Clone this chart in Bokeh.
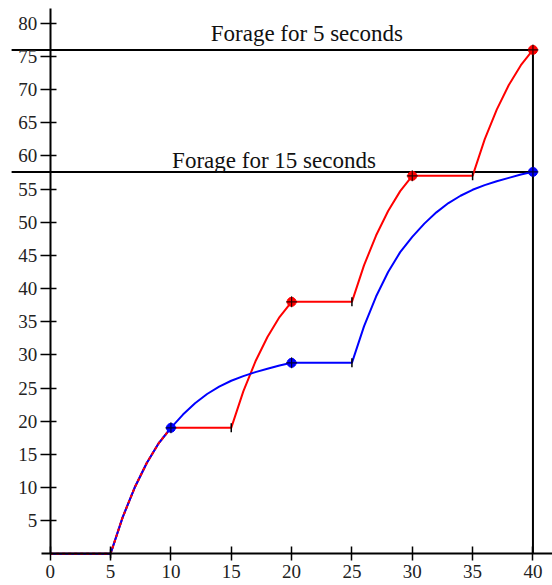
from bokeh.plotting import figure
from bokeh.models import Range1d, FixedTicker, ColumnDataSource
from bokeh.core.properties import value
from bokeh.embed import file_html
from bokeh.resources import INLINE

# ---- data ----
red_x = [0, 5, 6, 7, 8, 9, 10, 15, 16, 17, 18, 19, 20, 25, 26, 27, 28, 29, 30,
         35, 36, 37, 38, 39, 40]
red_y = [0, 0, 5.5, 10.0, 13.7, 16.7, 19.0, 19.0, 24.5, 29.0, 32.7, 35.7, 38.0,
         38.0, 43.5, 48.0, 51.7, 54.7, 57.0, 57.0, 62.5, 67.0, 70.7, 73.7, 76.0]
blue_x = [0, 5, 6, 7, 8, 9, 10, 11, 12, 13, 14, 15, 16, 17, 18, 19, 20,
          25, 26, 27, 28, 29, 30, 31, 32, 33, 34, 35, 36, 37, 38, 39, 40]
blue_y = [0, 0, 5.5, 10.0, 13.7, 16.7, 19.0, 21.0, 22.7, 24.1, 25.2, 26.1, 26.8,
          27.4, 27.9, 28.4, 28.8,
          28.8, 34.3, 38.8, 42.5, 45.5, 47.8, 49.8, 51.5, 52.9, 54.0, 54.9, 55.6,
          56.2, 56.7, 57.2, 57.6]
red_mark_x = [20, 30, 40]
red_mark_y = [38.0, 57.0, 76.0]
blue_mark_x = [10, 20, 40]
blue_mark_y = [19.0, 28.8, 57.6]
start_x = [5, 15, 25, 25, 35]
start_y = [0, 19.0, 38.0, 28.8, 57.0]
level_5s = 76.0
level_15s = 57.6
end_time = 40
x_ticks = [0, 5, 10, 15, 20, 25, 30, 35, 40]
y_ticks = [5, 10, 15, 20, 25, 30, 35, 40, 45, 50, 55, 60, 65, 70, 75, 80]
label_5s = "Forage for 5 seconds"
label_15s = "Forage for 15 seconds"

p = figure(width=552, height=585, output_backend="svg", toolbar_location=None,
           x_range=Range1d(-4.12, 41.62), y_range=Range1d(-4.78, 83.45),
           min_border=0, outline_line_color=None)
p.grid.visible = False
p.background_fill_color = "white"

for ax in (p.xaxis[0], p.yaxis[0]):
    ax.fixed_location = 0
    ax.axis_line_width = 2
    ax.axis_line_color = "black"
    ax.major_tick_line_width = 1.5
    ax.major_tick_line_color = "black"
    ax.minor_tick_line_color = None
    ax.major_label_text_font = "Liberation Serif"
    ax.major_label_text_font_size = "19px"
    ax.major_label_text_color = "#222222"

p.xaxis.ticker = FixedTicker(ticks=x_ticks)
p.yaxis.ticker = FixedTicker(ticks=y_ticks)
p.xaxis.major_tick_in = 7
p.xaxis.major_tick_out = 7
p.xaxis.major_label_standoff = 4
p.yaxis.major_tick_in = 6
p.yaxis.major_tick_out = 10
p.yaxis.major_label_standoff = 3
p.xaxis.bounds = (-0.7, 41.62)
p.yaxis.bounds = (0, 82.2)

# reference lines
p.segment(x0=[-3.2, -3.2], y0=[level_5s, level_15s], x1=[end_time, end_time],
          y1=[level_5s, level_15s], line_color="black", line_width=2)
p.segment(x0=[end_time], y0=[0], x1=[end_time], y1=[level_5s],
          line_color="black", line_width=2)

# curves
p.line(red_x, red_y, line_color="#ff0000", line_width=2)
p.line(blue_x, blue_y, line_color="#0000ff", line_width=2)
p.line(red_x[:7], red_y[:7], line_color="#ff0000", line_width=2, line_dash="3 3")

# start markers
p.scatter(start_x, start_y, marker="dash", angle=1.5708, size=9,
          line_color="black", line_width=1.5)

# end markers
p.scatter(red_mark_x, red_mark_y, marker="circle", size=9,
          fill_color="#ff0000", line_color="#ff0000")
p.scatter(blue_mark_x, blue_mark_y, marker="circle", size=9,
          fill_color="#0000ff", line_color="#0000ff")
p.scatter(red_mark_x + blue_mark_x, red_mark_y + blue_mark_y, marker="cross",
          size=11, line_color="black", line_width=1.2, line_alpha=0.8)

src = ColumnDataSource(dict(x=[13.3, 10.1], y=[78.4, 59.3], t=[label_5s, label_15s]))
p.text(x="x", y="y", text="t", source=src, text_font=value("Liberation Serif"),
       text_font_size="23px", text_color="#111111", text_baseline="alphabetic")

open("out.html", "w").write(file_html(p, INLINE))
